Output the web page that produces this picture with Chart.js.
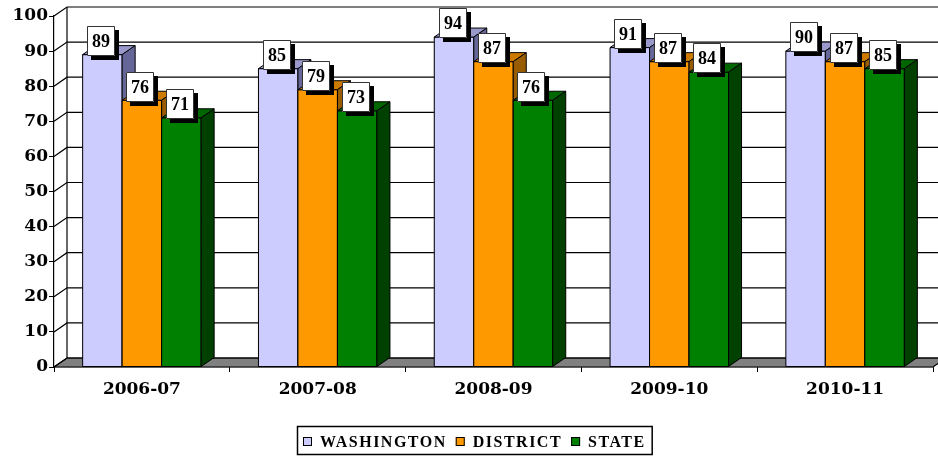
<!DOCTYPE html>
<html><head><meta charset="utf-8">
<script src="https://cdn.jsdelivr.net/npm/chart.js@4.4.1/dist/chart.umd.min.js"></script>
<style>html,body{margin:0;padding:0;background:#fff;overflow:hidden}#wrap{width:938px;height:457px;position:relative}</style>
</head><body><div id="wrap"><canvas id="c" width="938" height="457"></canvas></div>
<script>
// ---- data ----
const categories = ['2006-07', '2007-08', '2008-09', '2009-10', '2010-11'];
const seriesNames = ['WASHINGTON', 'DISTRICT', 'STATE'];
const washington = [89, 85, 94, 91, 90];
const district = [76, 79, 87, 87, 87];
const state = [71, 73, 76, 84, 85];
const yTickValues = [0, 10, 20, 30, 40, 50, 60, 70, 80, 90, 100];

// ---- styles ----
const DX = 13, DY = -9;
const faces = [
  { front: '#CCCCFF', top: '#9999CC', side: '#666699' },
  { front: '#FF9900', top: '#CC7A00', side: '#995C00' },
  { front: '#008000', top: '#006600', side: '#004000' }
];
const axisFont = { family: 'DejaVu Serif', weight: 'bold', size: 17 };

function poly(ctx, pts, fill) {
  ctx.beginPath();
  ctx.moveTo(pts[0][0], pts[0][1]);
  for (let i = 1; i < pts.length; i++) ctx.lineTo(pts[i][0], pts[i][1]);
  ctx.closePath();
  if (fill) { ctx.fillStyle = fill; ctx.fill(); }
  ctx.stroke();
}

const threeD = {
  id: 'threeD',
  beforeDatasetsDraw(chart) {
    const { ctx, chartArea: a, scales: { y } } = chart;
    ctx.save();
    ctx.strokeStyle = '#000';
    ctx.lineWidth = 1.2;
    const y0 = y.getPixelForValue(0);
    const yTop = y.getPixelForValue(100);
    // floor
    poly(ctx, [[a.left, y0], [a.right, y0], [a.right + DX, y0 + DY], [a.left + DX, y0 + DY]], '#808080');
    // grid on left and back walls
    y.ticks.forEach(t => {
      const py = y.getPixelForValue(t.value);
      ctx.beginPath();
      ctx.moveTo(a.left, py);
      ctx.lineTo(a.left + DX, py + DY);
      ctx.lineTo(chart.width + 30, py + DY);
      ctx.stroke();
    });
    ctx.beginPath();
    ctx.moveTo(a.left + DX, yTop + DY);
    ctx.lineTo(a.left + DX, y0 + DY);
    ctx.stroke();
    ctx.restore();
  },
  afterDatasetsDraw(chart) {
    const ctx = chart.ctx;
    ctx.save();
    // bars, drawn left series first so each next bar hides the previous side face
    ctx.strokeStyle = '#000';
    ctx.lineWidth = 1;
    ctx.lineJoin = 'round';
    chart.data.datasets.forEach((ds, di) => {
      const f = faces[di];
      chart.getDatasetMeta(di).data.forEach(el => {
        const { x, y, base, width } = el.getProps(['x', 'y', 'base', 'width'], true);
        const l = x - width / 2, r = x + width / 2;
        ctx.fillStyle = f.front;
        ctx.fillRect(l, y, width, base - y);
        ctx.strokeRect(l, y, width, base - y);
        poly(ctx, [[l, y], [r, y], [r + DX, y + DY], [l + DX, y + DY]], f.top);
        poly(ctx, [[r, y], [r + DX, y + DY], [r + DX, base + DY], [r, base]], f.side);
      });
    });
    // value labels
    ctx.font = 'bold 18px "Liberation Serif"';
    ctx.textAlign = 'center';
    ctx.textBaseline = 'middle';
    const bw = 28, bh = 30;
    chart.data.datasets.forEach((ds, di) => {
      const meta = chart.getDatasetMeta(di);
      meta.data.forEach((el, i) => {
        const { x, y } = el.getProps(['x', 'y'], true);
        const cx = Math.round(x - 1.5), cy = Math.round(y - 13.7);
        const bx = cx - bw / 2, by = cy - bh / 2;
        ctx.fillStyle = '#000';
        ctx.fillRect(bx + 4, by + 4, bw, bh);
        ctx.fillStyle = '#fff';
        ctx.fillRect(bx, by, bw, bh);
        ctx.strokeStyle = '#333';
        ctx.lineWidth = 1;
        ctx.strokeRect(bx + 0.5, by + 0.5, bw - 1, bh - 1);
        ctx.fillStyle = '#000';
        ctx.fillText(String(ds.data[i]), cx, cy + 1);
      });
    });
    ctx.restore();
  },
  afterDraw(chart) {
    // legend
    const ctx = chart.ctx;
    ctx.save();
    ctx.font = 'bold 16px "Liberation Serif"';
    ctx.letterSpacing = '1.5px';
    ctx.textBaseline = 'alphabetic';
    ctx.textAlign = 'left';
    const pad = 6, mk = 9, gap1 = 8, gap2 = 9;
    const items = chart.data.datasets.map((ds, i) => ({ text: ds.label, color: ds.backgroundColor, w: ctx.measureText(ds.label).width }));
    let total = pad * 2;
    items.forEach((it, i) => { total += mk + gap1 + it.w + (i < items.length - 1 ? gap2 : 0); });
    const cx = 474, top = 426, h = 28;
    const left = Math.round(cx - total / 2);
    ctx.strokeStyle = '#000';
    ctx.lineWidth = 1.5;
    ctx.fillStyle = '#fff';
    ctx.fillRect(left, top, total, h);
    ctx.strokeRect(left + 0.5, top + 0.5, total, h);
    let xx = left + pad;
    const base = top + 20.5;
    items.forEach((it, i) => {
      ctx.fillStyle = it.color;
      ctx.fillRect(xx, top + 11, mk, mk);
      ctx.lineWidth = 1;
      ctx.strokeStyle = '#000';
      ctx.strokeRect(xx + 0.5, top + 11.5, mk - 1, mk - 1);
      xx += mk + gap1;
      ctx.fillStyle = '#000';
      ctx.fillText(it.text, xx, base);
      xx += it.w + gap2;
    });
    ctx.restore();
  }
};

const seriesData = [washington, district, state];
new Chart(document.getElementById('c'), {
  type: 'bar',
  data: {
    labels: categories,
    datasets: seriesNames.map((n, i) => ({
      label: n,
      data: seriesData[i],
      backgroundColor: faces[i].front,
      borderColor: '#000',
      borderWidth: 1,
      borderSkipped: false,
      barPercentage: 1,
      categoryPercentage: 0.674
    }))
  },
  options: {
    responsive: false,
    animation: false,
    devicePixelRatio: 1,
    layout: { padding: { top: 16, right: 5, left: 0, bottom: 0 } },
    plugins: { legend: { display: false }, tooltip: { enabled: false } },
    scales: {
      x: {
        grid: { display: true, drawOnChartArea: false, drawTicks: true, tickLength: 5, color: '#000', offset: true },
        border: { display: true, color: '#000', width: 1.2 },
        ticks: { font: axisFont, color: '#000', padding: 7, maxRotation: 0, autoSkip: false },
        afterFit(s) { s.height = 90; }
      },
      y: {
        min: 0, max: 100,
        afterBuildTicks(s) { s.ticks = yTickValues.map(v => ({ value: v })); },
        grid: { display: true, drawOnChartArea: false, drawTicks: true, tickLength: 5, color: '#000' },
        border: { display: true, color: '#000', width: 1.2 },
        ticks: { font: axisFont, color: '#000', padding: 1 },
        afterFit(s) { s.width = 54; }
      }
    }
  },
  plugins: [threeD]
});
</script>
</body></html>
